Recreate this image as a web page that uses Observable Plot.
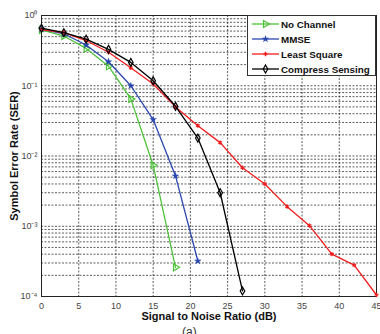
<!DOCTYPE html>
<html><head><meta charset="utf-8">
<script src="https://cdn.jsdelivr.net/npm/d3@7"></script>
<script src="https://cdn.jsdelivr.net/npm/@observablehq/plot@0.6"></script>
<style>
body{margin:0;background:#fff;font-family:"Liberation Sans",Arial,sans-serif;}
#wrap{position:relative;width:380px;height:334px;overflow:hidden;}
#legend{position:absolute;left:247px;top:15px;width:129px;height:61px;background:#fff;border:1px solid #333;box-sizing:border-box;}
#legend svg{display:block}
g[aria-label="x-axis label"] text, g[aria-label="y-axis label"] text{font-weight:bold;font-size:11px;fill:#111}
g[aria-label="x-axis tick label"] text, g[aria-label="y-axis tick label"] text{fill:#444}
#cap{position:absolute;left:182px;top:325px;font-size:12px;color:#333}
</style></head><body>
<div id="wrap"><div id="chart"></div><div id="legend"></div><div id="cap">(a)</div></div>
<script>
const snrA = [0,3,6,9,12,15,18];
const noChannel = [0.625,0.51,0.34,0.19,0.065,0.0074,0.00026];
const snrB = [0,3,6,9,12,15,18,21];
const mmse = [0.64,0.55,0.38,0.22,0.10,0.033,0.0052,0.00032];
const snrC = [0,3,6,9,12,15,18,21,24,27,30,33,36,39,42,45];
const leastSquare = [0.63,0.57,0.44,0.30,0.18,0.106,0.05,0.027,0.0155,0.0068,0.004,0.0019,0.00102,0.0004,0.00028,0.000105];
const snrD = [0,3,6,9,12,15,18,21,24,27];
const compressSensing = [0.66,0.57,0.46,0.33,0.215,0.118,0.051,0.018,0.003,0.00012];
const xTicks = [0,5,10,15,20,25,30,35,40,45];
const yTicks = [1e-4,1e-3,1e-2,1e-1,1];
const yTickLabels = ["10⁻⁴","10⁻³","10⁻²","10⁻¹","10⁰"];

const series = [
  {name:"No Channel", x:snrA, y:noChannel, color:"#4fc23a", symbol:"triangle", fill:"none", rotate:90, r:2.6},
  {name:"MMSE", x:snrB, y:mmse, color:"#2b47b0", symbol:"star", fill:"#2b47b0", rotate:0, r:1.3},
  {name:"Least Square", x:snrC, y:leastSquare, color:"#f21d1d", symbol:"asterisk", fill:"none", rotate:0, r:2},
  {name:"Compress Sensing", x:snrD, y:compressSensing, color:"#000", symbol:"diamond", fill:"none", rotate:0, r:2.4}
];
const rows = series.flatMap(s => s.x.map((x,i)=>({x, y:s.y[i], name:s.name})));
const yMinor = d3.scaleLog().domain([1e-4,1]).ticks();

const marks = [
  Plot.ruleY(yMinor, {stroke:"#000", strokeOpacity:0.8, strokeDasharray:"2,1.5", strokeWidth:0.8}),
  Plot.ruleX(xTicks, {stroke:"#000", strokeOpacity:0.8, strokeDasharray:"2,1.5", strokeWidth:0.8}),
  Plot.frame({stroke:"#222"})
];
for (const s of series) {
  const d = rows.filter(r=>r.name===s.name);
  marks.push(Plot.line(d, {x:"x", y:"y", stroke:s.color, strokeWidth:1.3}));
  marks.push(Plot.dot(d, {x:"x", y:"y", stroke:s.color, fill:s.fill, symbol:s.symbol, r:s.r, rotate:s.rotate, strokeWidth:1.2}));
}

const chart = Plot.plot({
  width:380, height:334,
  marginTop:15, marginBottom:38, marginLeft:41, marginRight:4,
  style:{fontFamily:"'Liberation Sans', Arial, sans-serif", fontSize:"9px", background:"#fff"},
  x:{domain:[0,45], ticks:xTicks, tickSize:0, tickPadding:6, label:"Signal to Noise Ratio (dB)", labelAnchor:"center", labelArrow:"none", labelOffset:23},
  y:{type:"log", domain:[1e-4,1], ticks:yTicks, tickFormat:(d)=>yTickLabels[yTicks.indexOf(d)], tickSize:0, tickPadding:4, label:"Symbol Error Rate (SER)", labelAnchor:"center", labelArrow:"none", labelOffset:31},
  marks
});
document.getElementById("chart").appendChild(chart);

// legend
const lg = d3.select("#legend").append("svg").attr("width",127).attr("height",59);
series.forEach((s,i)=>{
  const y = 8 + i*15;
  lg.append("line").attr("x1",4).attr("x2",31).attr("y1",y).attr("y2",y).attr("stroke",s.color).attr("stroke-width",1.3);
  const sym = {triangle:d3.symbolTriangle, star:d3.symbolStar, asterisk:d3.symbolAsterisk, diamond:d3.symbolDiamond}[s.symbol];
  lg.append("path").attr("d", d3.symbol(sym, Math.PI*s.r*s.r)())
    .attr("transform",`translate(17.5,${y}) rotate(${s.rotate})`)
    .attr("stroke",s.color).attr("fill",s.fill==="none"?"none":s.fill).attr("stroke-width",1.2);
  lg.append("text").attr("x",33).attr("y",y+3.6).text(s.name)
    .attr("font-size","9.8px").attr("font-weight","bold").attr("fill","#111")
    .attr("font-family","'Liberation Sans', Arial, sans-serif");
});
</script>
</body></html>
